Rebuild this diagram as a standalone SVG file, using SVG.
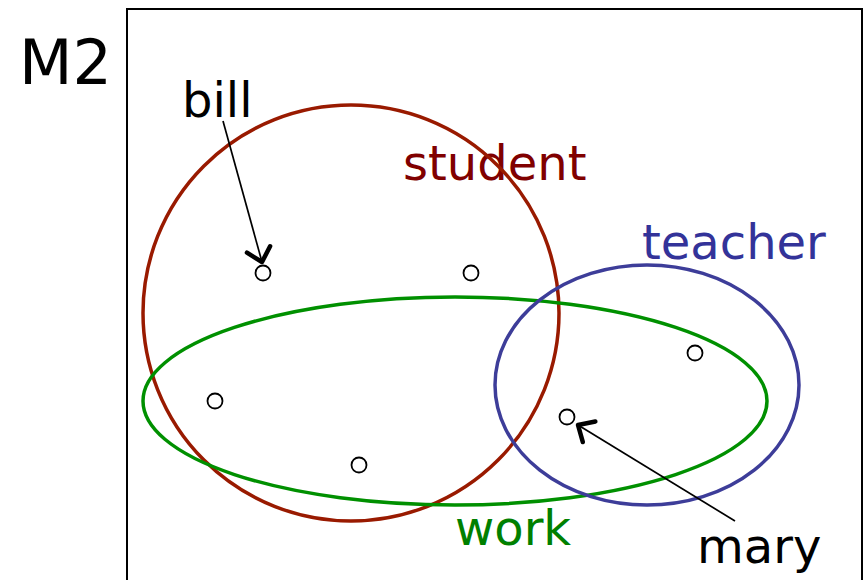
<svg xmlns="http://www.w3.org/2000/svg" width="864" height="580" viewBox="0 0 864 580">
<style>
text{font-family:"DejaVu Sans",sans-serif;font-size:48px}
.pt{fill:#fff;stroke:#000;stroke-width:1.8}
.arr{stroke:#000;stroke-width:1.7;fill:none}
.set{fill:none;stroke-width:3.5}
</style>
<defs>
<marker id="ah" viewBox="0 0 10 10" refX="9" refY="5" markerWidth="10" markerHeight="10" markerUnits="userSpaceOnUse" orient="auto" overflow="visible">
<path d="M-4,-7 L9,5 L-4,17" fill="none" stroke="#000" stroke-width="4.5" stroke-linecap="round" stroke-linejoin="round"/>
</marker>
</defs>
<rect x="0" y="0" width="864" height="580" fill="#fff"/>
<rect id="frame" x="127" y="9" width="735" height="580" fill="none" stroke="#000" stroke-width="2"/>
<text x="19" y="84" style="font-size:62px">M2</text>
<g id="student">
<text x="403" y="180" fill="#800000">student</text>
<circle class="set" cx="351" cy="313" r="208" stroke="#991a00"/>
</g>
<g id="work">
<ellipse class="set" cx="455" cy="401" rx="312" ry="104" stroke="#009000"/>
<text x="455" y="545" fill="#008000">work</text>
</g>
<g id="teacher">
<ellipse class="set" cx="647" cy="385" rx="152" ry="120" stroke="#3d3d99"/>
<text x="642" y="259" fill="#333399">teacher</text>
</g>
<g id="points">
<circle class="pt" cx="263" cy="273" r="7.5"/>
<circle class="pt" cx="471" cy="273" r="7.5"/>
<circle class="pt" cx="215" cy="401" r="7.5"/>
<circle class="pt" cx="359" cy="465" r="7.5"/>
<circle class="pt" cx="695" cy="353" r="7.5"/>
<circle class="pt" cx="567" cy="417" r="7.5"/>
</g>
<g id="bill"><text x="182" y="117">bill</text></g>
<g id="mary"><text x="697" y="563">mary</text></g>
<g id="connectors">
<line class="arr" x1="223" y1="121" x2="262" y2="262" marker-end="url(#ah)"/>
<line class="arr" x1="735" y1="521" x2="578" y2="425" marker-end="url(#ah)"/>
</g>
</svg>
